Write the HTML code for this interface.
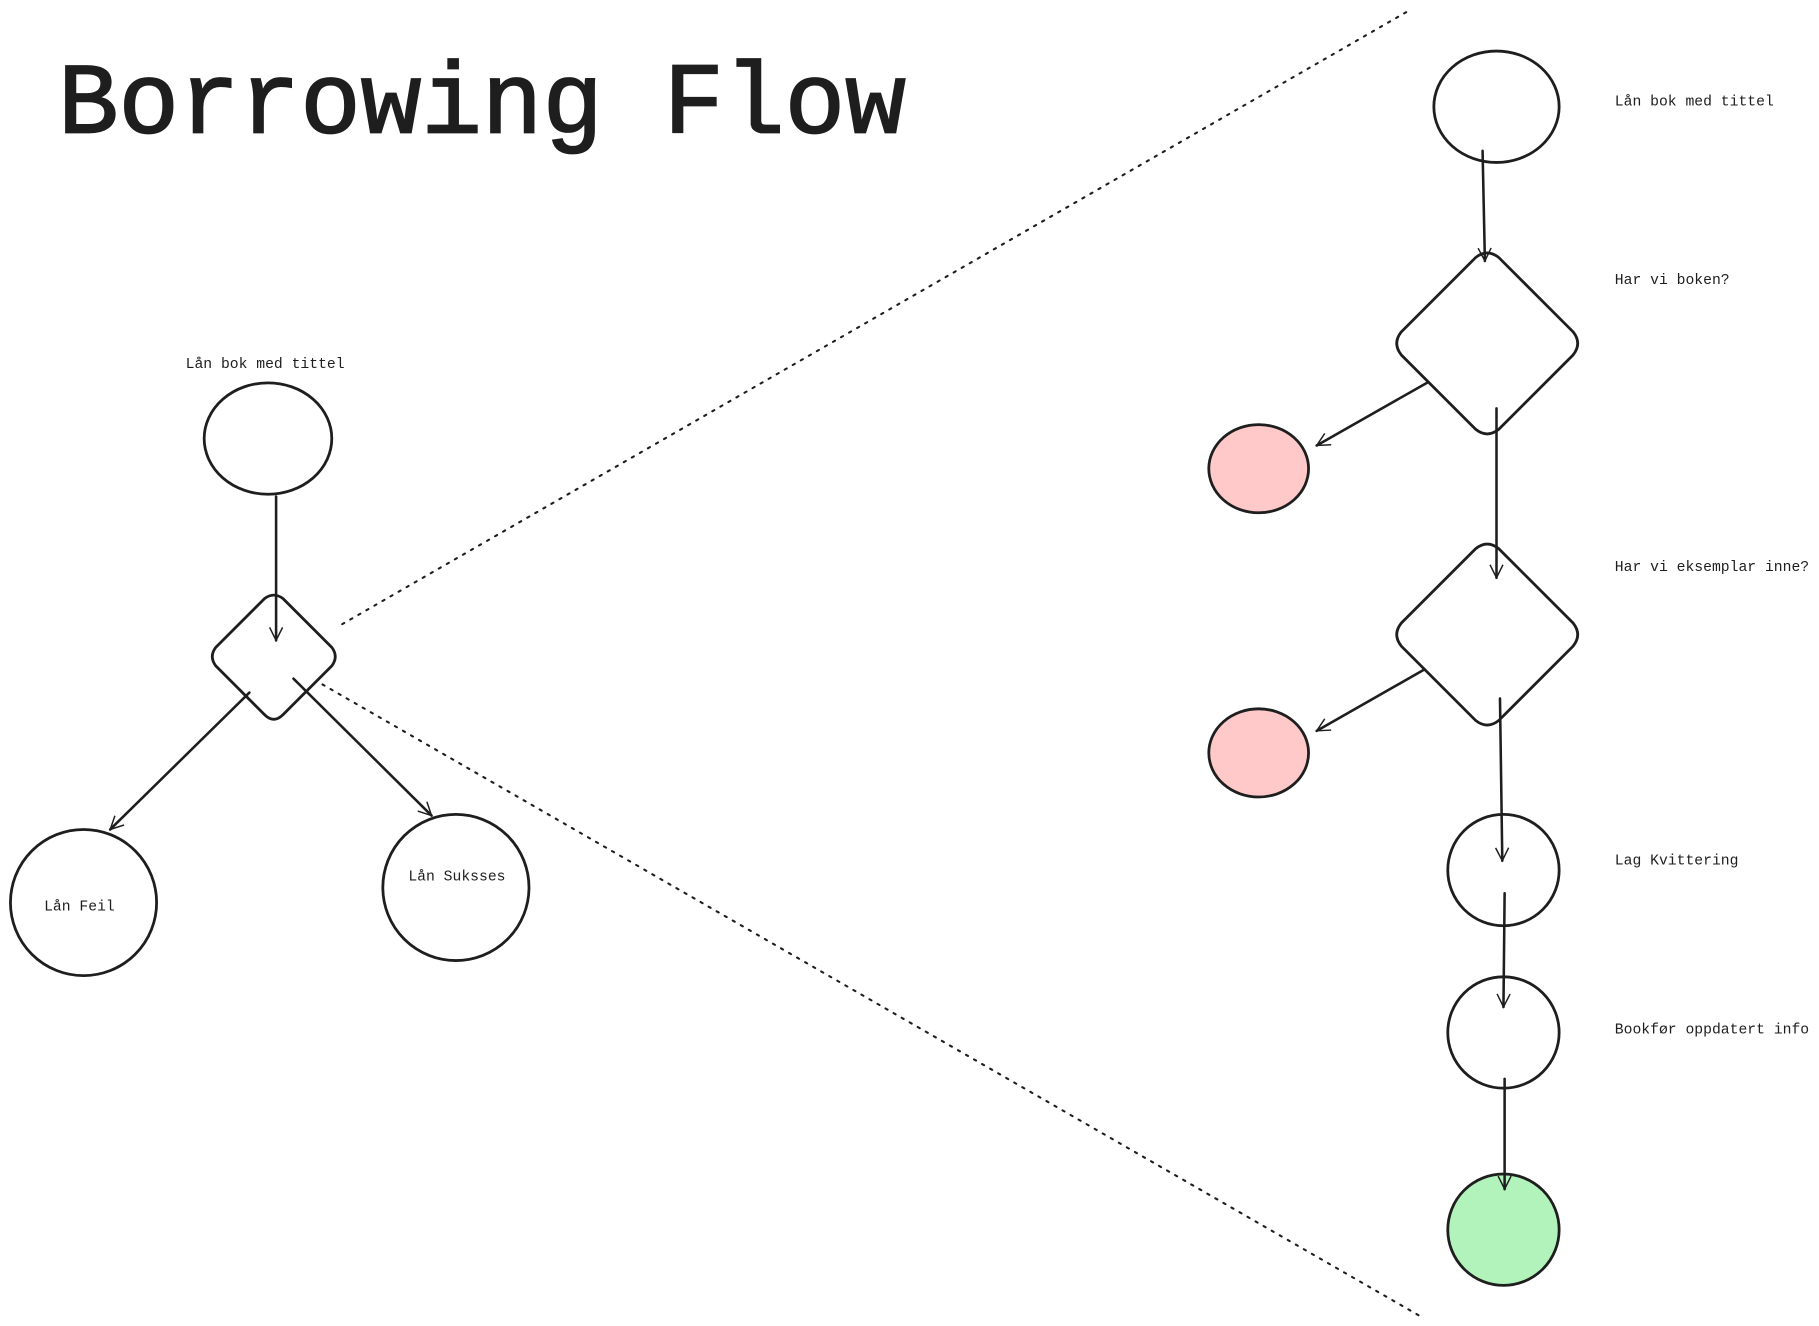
<!DOCTYPE html>
<html><head><meta charset="utf-8"><style>
html,body{margin:0;padding:0;background:#fff;}
svg{display:block}
text{font-family:"Liberation Mono","DejaVu Sans Mono",monospace;fill:#1e1e1e}
</style></head><body>
<svg width="1819" height="1326" viewBox="0 0 1568 1143" xmlns="http://www.w3.org/2000/svg">
<defs>
<marker id="a" viewBox="0 0 20 20" refX="18" refY="10" markerWidth="14" markerHeight="14" orient="auto" markerUnits="userSpaceOnUse">
<path d="M2 2 L18 10 L2 18" fill="none" stroke="#1e1e1e" stroke-width="1.8"/>
</marker>
</defs>
<g fill="none" stroke="#1e1e1e" stroke-width="2.4" stroke-linejoin="round" stroke-linecap="round">
<line x1="295" y1="538" x2="1213" y2="10" stroke-dasharray="2,6" stroke-width="1.8"/>
<line x1="278" y1="590" x2="1225" y2="1135" stroke-dasharray="2,6" stroke-width="1.8"/>
<ellipse cx="231" cy="378" rx="55" ry="48"/>
<path d="M228 516 Q236 510 244 516 L286 558 Q292 566 286 574 L244 616 Q236 624 228 616 L186 574 Q180 566 186 558 Z"/>
<ellipse cx="72" cy="778" rx="63" ry="63"/>
<ellipse cx="393" cy="765" rx="63" ry="63"/>
<g stroke-width="2.2">
<line x1="238" y1="428" x2="238" y2="552" marker-end="url(#a)"/>
<line x1="215" y1="597" x2="95" y2="715" marker-end="url(#a)"/>
<line x1="253" y1="585" x2="372" y2="703" marker-end="url(#a)"/>
</g>
<ellipse cx="1290" cy="92" rx="54" ry="48"/>
<path d="M1272 222 Q1282 214 1292 222 L1356 286 Q1364 296 1356 306 L1292 370 Q1282 378 1272 370 L1208 306 Q1200 296 1208 286 Z"/>
<path d="M1272 473 Q1282 465 1292 473 L1356 537 Q1364 547 1356 557 L1292 621 Q1282 629 1272 621 L1208 557 Q1200 547 1208 537 Z"/>
<ellipse cx="1085" cy="404" rx="43" ry="38" fill="#ffc9c9"/>
<ellipse cx="1085" cy="649" rx="43" ry="38" fill="#ffc9c9"/>
<ellipse cx="1296" cy="750" rx="48" ry="48"/>
<ellipse cx="1296" cy="890" rx="48" ry="48"/>
<ellipse cx="1296" cy="1060" rx="48" ry="48" fill="#b2f2bb"/>
<g stroke-width="2.2">
<line x1="1278" y1="130" x2="1280" y2="225" marker-end="url(#a)"/>
<line x1="1230" y1="330" x2="1135" y2="384" marker-end="url(#a)"/>
<line x1="1290" y1="352" x2="1290" y2="498" marker-end="url(#a)"/>
<line x1="1228" y1="577" x2="1135" y2="630" marker-end="url(#a)"/>
<line x1="1293" y1="602" x2="1295" y2="742" marker-end="url(#a)"/>
<line x1="1297" y1="770" x2="1296" y2="868" marker-end="url(#a)"/>
<line x1="1297" y1="930" x2="1297" y2="1025" marker-end="url(#a)"/>
</g>
</g>
<text x="50" y="114" font-size="87" stroke="#1e1e1e" stroke-width="1.5">Borrowing Flow</text>
<g font-size="12.7">
<text x="160" y="317">Lån bok med tittel</text>
<text x="38" y="785">Lån Feil</text>
<text x="352" y="759">Lån Suksses</text>
<text x="1392" y="91">Lån bok med tittel</text>
<text x="1392" y="245">Har vi boken?</text>
<text x="1392" y="492">Har vi eksemplar inne?</text>
<text x="1392" y="745">Lag Kvittering</text>
<text x="1392" y="891">Bookfør oppdatert info</text>
</g>
</svg>
</body></html>
